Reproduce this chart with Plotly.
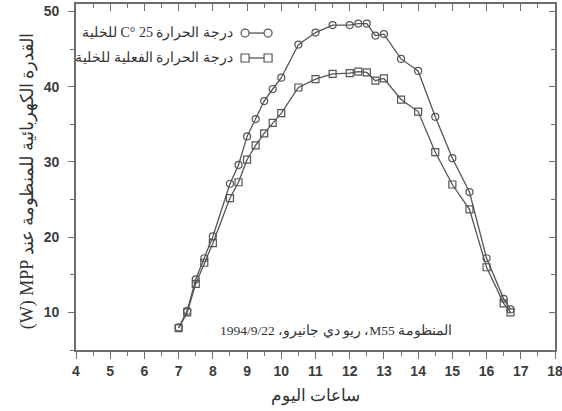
import plotly.graph_objects as go

# hours of the day (x) and MPP power (W) for both cell temperatures
hours = [7.0, 7.25, 7.5, 7.75, 8.0, 8.5, 8.75, 9.0, 9.25, 9.5, 9.75, 10.0,
         10.5, 11.0, 11.5, 12.0, 12.25, 12.5, 12.75, 13.0, 13.5, 14.0,
         14.5, 15.0, 15.5, 16.0, 16.5, 16.7]
power_25c = [8.0, 10.2, 14.4, 17.2, 20.1, 27.1, 29.6, 33.4, 35.7, 38.1, 39.7,
             41.2, 45.6, 47.2, 48.2, 48.2, 48.4, 48.4, 46.8, 47.0, 43.7, 42.1,
             36.0, 30.5, 26.0, 17.2, 11.8, 10.4]
power_actual = [7.9, 10.0, 13.8, 16.6, 19.2, 25.2, 27.3, 30.3, 32.2, 33.8,
                35.2, 36.5, 39.9, 41.0, 41.7, 41.8, 42.0, 41.9, 40.8, 41.1,
                38.3, 36.7, 31.3, 27.0, 23.7, 16.0, 11.2, 10.0]

RLE, PDF, RLM = "\u202b", "\u202c", "\u200f"
label_25c = "درجة الحرارة 25 °C للخلية"
label_actual = "درجة الحرارة الفعلية للخلية"
note = "المنظومة M55، ريو دي جانيرو، 1994/9/22"
x_title = "ساعات اليوم"
y_title = "القدرة الكهربائية للمنظومة عند MPP " + RLM + "(W)"

LINE = "#555555"
FRAME = "#6e6e6e"
TICKFONT = dict(family="Liberation Sans", size=14, color="#3c3c3c", weight="bold")
X_RANGE = [4, 18]
Y_RANGE = [5, 51]

fig = go.Figure()
fig.add_trace(go.Scatter(
    x=hours, y=power_25c, mode="lines+markers", name=label_25c,
    line=dict(color=LINE, width=1.3),
    marker=dict(symbol="circle-open", size=7, color=LINE, line=dict(width=1.2)),
))
# second series sits on the mirrored top/right axes (same ranges) so they get drawn
fig.add_trace(go.Scatter(
    x=hours, y=power_actual, mode="lines+markers", name=label_actual,
    xaxis="x2", yaxis="y2",
    line=dict(color=LINE, width=1.3),
    marker=dict(symbol="square-open", size=7, color=LINE, line=dict(width=1.2)),
))

# hand-made legend: text on the left, sample on the right (RTL style)
legend_rows = [(label_25c, "circle", 0.916), (label_actual, "rect", 0.844)]
annotations = []
shapes = []
for text, kind, yy in legend_rows:
    annotations.append(dict(
        text=RLE + text + PDF, xref="paper", yref="paper", x=0.332, y=yy,
        xanchor="right", yanchor="middle", showarrow=False,
        font=dict(family="Liberation Serif", size=14, color="#333333"),
    ))
    shapes.append(dict(type="line", xref="paper", yref="paper",
                       x0=0.353, x1=0.401, y0=yy, y1=yy,
                       line=dict(color=LINE, width=1.3)))
    for xx in (0.353, 0.401):
        shapes.append(dict(type=kind, xref="paper", yref="paper",
                           xsizemode="pixel", ysizemode="pixel",
                           xanchor=xx, yanchor=yy, x0=-4, x1=4, y0=-4, y1=4,
                           fillcolor="white", line=dict(color=LINE, width=1.2)))

annotations.append(dict(
    text=RLE + note + PDF, xref="paper", yref="paper", x=0.543, y=0.055,
    xanchor="center", yanchor="middle", showarrow=False,
    font=dict(family="Liberation Serif", size=13.5, color="#333333"),
))
# y-axis title as a rotated annotation for exact placement
annotations.append(dict(
    text=RLE + y_title + PDF, xref="paper", yref="paper", x=-0.102, y=0.488,
    xanchor="center", yanchor="middle", showarrow=False, textangle=-90,
    font=dict(family="Liberation Serif", size=18, color="#333333"),
))

fig.update_layout(
    width=562, height=411,
    margin=dict(l=76, r=7, t=4, b=61),
    plot_bgcolor="white", paper_bgcolor="white",
    showlegend=False,
    annotations=annotations,
    shapes=shapes,
    xaxis=dict(
        range=X_RANGE, dtick=1, tick0=4, ticks="outside", ticklen=7,
        tickwidth=1.3, tickcolor=FRAME, showgrid=False, zeroline=False,
        showline=True, linecolor=FRAME, linewidth=1.6, tickfont=TICKFONT,
        automargin=False, ticklabeloverflow="allow",
        minor=dict(dtick=0.5, ticks="outside", ticklen=4, tickcolor=FRAME,
                   showgrid=False),
        title=dict(text=RLE + x_title + PDF, standoff=12,
                   font=dict(family="Liberation Sans", size=17, color="#333333")),
    ),
    yaxis=dict(
        range=Y_RANGE, dtick=10, tick0=0, ticks="outside", ticklen=6,
        tickwidth=1.3, tickcolor=FRAME, showgrid=False, zeroline=False,
        showline=True, linecolor=FRAME, linewidth=1.6, tickfont=TICKFONT,
        ticklabelstandoff=6, automargin=False, ticklabeloverflow="allow",
        minor=dict(dtick=5, ticks="outside", ticklen=4, tickcolor=FRAME,
                   showgrid=False),
    ),
    xaxis2=dict(
        overlaying="x", side="top", anchor="y2", range=X_RANGE, dtick=1,
        tick0=4, ticks="inside", ticklen=7, tickwidth=1.3, tickcolor=FRAME,
        showticklabels=False, showgrid=False, zeroline=False, automargin=False,
        showline=True, linecolor=FRAME, linewidth=1.6,
        minor=dict(dtick=0.5, ticks="inside", ticklen=4, tickcolor=FRAME),
    ),
    yaxis2=dict(
        overlaying="y", side="right", anchor="x2", range=Y_RANGE, dtick=10,
        tick0=0, ticks="inside", ticklen=6, tickwidth=1.3, tickcolor=FRAME,
        showticklabels=False, showgrid=False, zeroline=False, automargin=False,
        showline=True, linecolor=FRAME, linewidth=1.6,
        minor=dict(dtick=5, ticks="inside", ticklen=4, tickcolor=FRAME),
    ),
)

# drop the browser's default 8px body margin so the figure fills the window
fig.write_html(
    "out.html",
    config={"displayModeBar": False},
    post_script="document.body.style.margin = '0';",
)
